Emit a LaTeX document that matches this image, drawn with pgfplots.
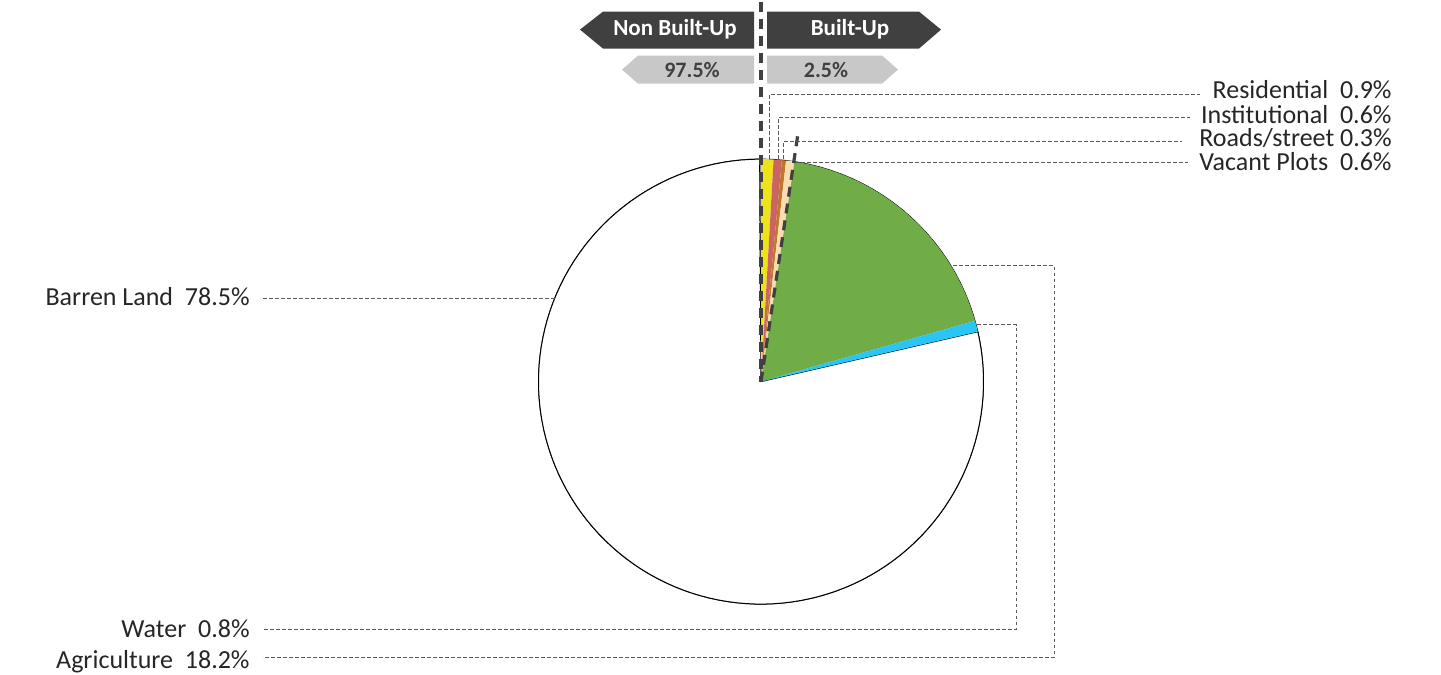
\documentclass[border=0pt]{standalone}
\usepackage{pgfplots}
\pgfplotsset{compat=1.18}
\usepackage{fontspec}
\setmainfont{Carlito}
\definecolor{resid}{HTML}{EDE21B}
\definecolor{instit}{HTML}{CD6464}
\definecolor{roads}{HTML}{C0782A}
\definecolor{vacant}{HTML}{F9DDB0}
\definecolor{agri}{HTML}{70AD47}
\definecolor{water}{HTML}{29C5F6}
\definecolor{dark}{HTML}{404040}
\definecolor{light}{HTML}{C8C8C8}
\definecolor{lead}{HTML}{5A5A5A}
% slice: #1 cumulative percent before, #2 percent, #3 colour, #4 extra style
\newcommand{\slice}[4]{%
  \pgfmathsetmacro{\angA}{90-3.6*(#1+#2)}%
  \pgfmathsetmacro{\angB}{90-3.6*(#1)}%
  \addplot[fill=#3, #4, domain=\angA:\angB, samples=120, variable=\t]
    ({761+222.5*cos(\t)},{380-222.5*sin(\t)}) -- (761,380) -- cycle;}
\begin{document}
\begin{tikzpicture}
\begin{axis}[
  width=720.5pt, height=336.5pt, scale only axis,
  xmin=0, xmax=1441, ymin=0, ymax=673, y dir=reverse,
  hide axis, clip=false]
\path (0,0) rectangle (1441,673);
% pie (percent values)
\slice{0}{100}{white}{draw=black, line width=0.5pt}
\slice{21.4}{78.5}{white}{draw=black, line width=0.5pt}
\slice{0}{0.9}{resid}{draw=none}
\slice{0.9}{0.6}{instit}{draw=none}
\slice{1.5}{0.3}{roads}{draw=none}
\slice{1.8}{0.6}{vacant}{draw=none}
\slice{2.4}{18.2}{agri}{draw=none}
\slice{20.6}{0.8}{water}{draw=none}
% built-up divider
\draw[dark, line width=1.6pt, dash pattern=on 5pt off 3.5pt] (761,0) -- (761,380);
\draw[dark, line width=1.6pt, dash pattern=on 5pt off 3.5pt] (761,380) -- (798,132);
% header shapes
\fill[dark] (580,28) -- (603,10) -- (754,10) -- (754,47) -- (603,47) -- cycle;
\fill[dark] (767,10) -- (919,10) -- (941,28) -- (919,47) -- (767,47) -- cycle;
\fill[light] (622,68) -- (638,54) -- (754,54) -- (754,82) -- (638,82) -- cycle;
\fill[light] (767,54) -- (882,54) -- (898,68) -- (882,82) -- (767,82) -- cycle;
\node[white, font=\fontsize{11.5}{13}\selectfont\bfseries] at (675,28) {Non Built-Up};
\node[white, font=\fontsize{11.5}{13}\selectfont\bfseries] at (850,28) {Built-Up};
\node[dark, font=\fontsize{11}{13}\selectfont\bfseries] at (692,68) {97.5\%};
\node[dark, font=\fontsize{11}{13}\selectfont\bfseries] at (826,68) {2.5\%};
% leader lines
\begin{scope}[lead, line width=0.5pt, dash pattern=on 1.8pt off 1.2pt]
\draw (769,157) -- (769,93) -- (1200,93);
\draw (778,157) -- (778,116) -- (1190,116);
\draw (783,157) -- (783,140) -- (1182,140);
\draw (795,161) -- (1188,161);
\draw (263,297) -- (555,297);
\draw (953,264) -- (1054,264) -- (1054,656) -- (263,656);
\draw (977,323) -- (1016,323) -- (1016,628) -- (263,628);
\end{scope}
% labels
\begin{scope}[every node/.style={font=\fontsize{13}{15}\selectfont, text=black!85, inner sep=0pt}]
\node[anchor=base east] at (1392,97) {Residential\ \ 0.9\%};
\node[anchor=base east] at (1392,122) {Institutional\ \ 0.6\%};
\node[anchor=base east] at (1392,145) {Roads/street 0.3\%};
\node[anchor=base east] at (1392,169) {Vacant Plots\ \ 0.6\%};
\node[anchor=base east] at (250,304) {Barren Land\ \ 78.5\%};
\node[anchor=base east] at (250,636) {Water\ \ 0.8\%};
\node[anchor=base east] at (250,667) {Agriculture\ \ 18.2\%};
\end{scope}
\end{axis}
\end{tikzpicture}
\end{document}
